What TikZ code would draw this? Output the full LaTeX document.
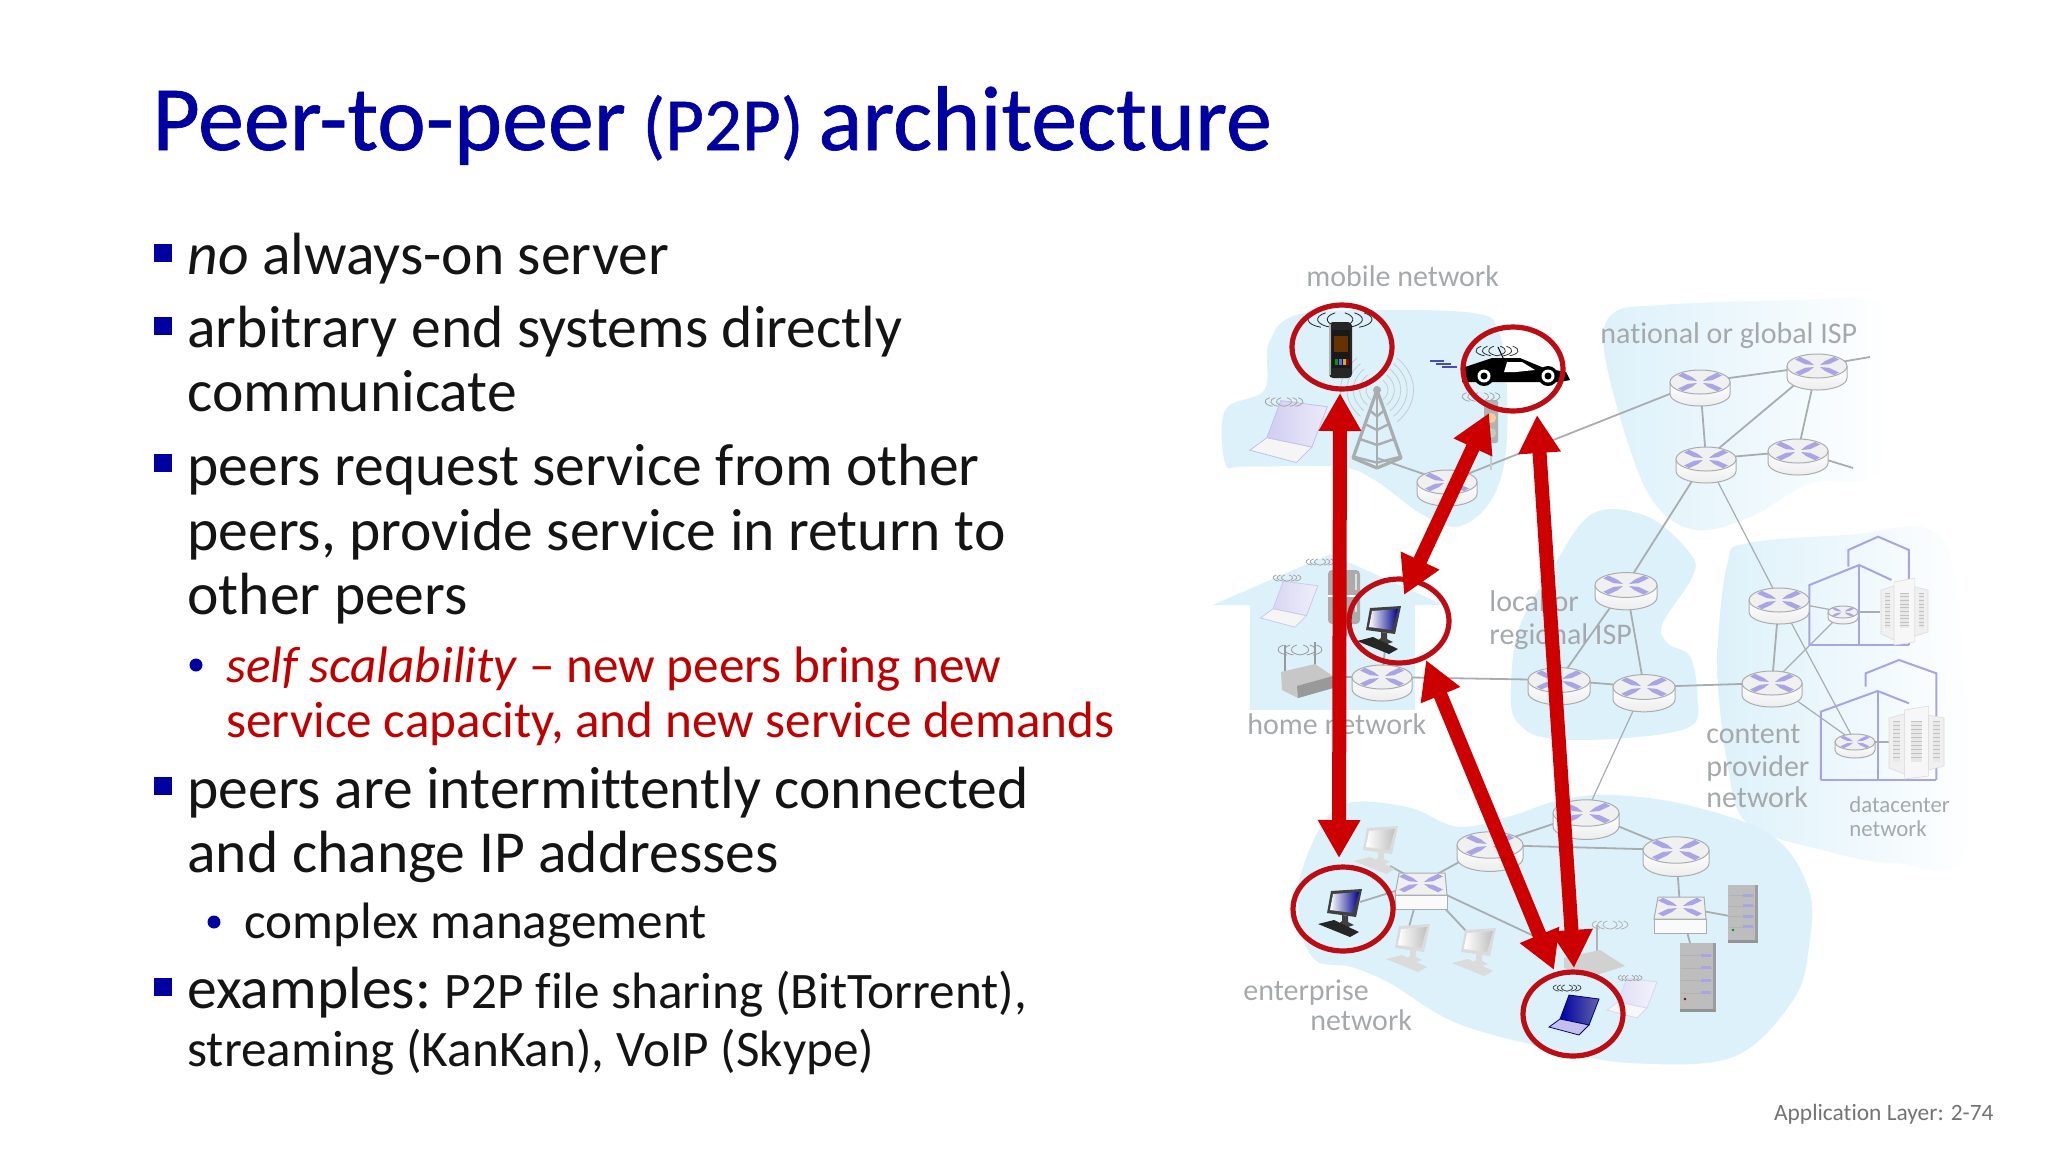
\documentclass[tikz,border=0pt]{standalone}
\usepackage{fontspec}
\setmainfont[Ligatures=NoCommon]{Carlito}
\newfontfamily\titlefont[Ligatures=NoCommon,FakeBold=0.7]{Carlito}
\usetikzlibrary{arrows.meta,shapes.geometric}
\definecolor{cloudc}{HTML}{DDF1FA}
\definecolor{lnk}{HTML}{A9ADB0}
\definecolor{lav}{HTML}{A9A5E5}
\definecolor{lab}{HTML}{A6A9AB}
\definecolor{rarrow}{HTML}{CC0000}
\definecolor{rring}{HTML}{BC0C14}
\definecolor{titleb}{HTML}{0000A0}
\definecolor{redtxt}{HTML}{C00000}
\definecolor{fdgray}{HTML}{C9CBCE}
\tikzset{
 cloud/.style={fill=cloudc,draw=none},
 link/.style={draw=lnk,line width=0.9pt},
 thinlink/.style={draw=lnk,line width=0.6pt},
 body/.style={anchor=base west,inner sep=0pt,font=\fontsize{29.8}{34}\selectfont,text=black!92},
 bodysm/.style={anchor=base west,inner sep=0pt,font=\fontsize{25.6}{30}\selectfont,text=black!92},
 redbody/.style={anchor=base west,inner sep=0pt,font=\fontsize{25.6}{30}\selectfont,text=redtxt},
 graylab/.style={anchor=base west,inner sep=0pt,font=\fontsize{15}{17}\selectfont,text=lab},
 smalllab/.style={anchor=base west,inner sep=0pt,font=\fontsize{11.4}{14}\selectfont,text=lab},
 ring/.style={draw=rring,line width=2.6pt,ellipse,minimum width=100*0.5pt,minimum height=84*0.5pt,inner sep=0pt},
 bigarrow/.style={draw=rarrow,line width=7pt,{Triangle[length=19pt,width=20pt,fill=rarrow]}-{Triangle[length=19pt,width=20pt,fill=rarrow]}},
 sqb/.style={fill=titleb,draw=none,minimum size=9pt,inner sep=0pt},
 rdot/.style={fill=titleb,draw=none,circle,minimum size=6.5pt,inner sep=0pt},
 zoomA/.style={shift={(1200,250)},xscale=0.4591,yscale=0.3333},
 zoomB/.style={shift={(1200,530)},xscale=0.4975,yscale=0.3333},
 zoomC/.style={shift={(1220,780)},xscale=0.3953,yscale=0.3333},
 bldg/.style={draw=lav,line width=1pt},
}
\newcommand\xmark{%
 \foreach \sx in {-1,1}{\foreach \sy in {-1,1}{
  \fill[lav] (\sx*3,\sy*1) -- (\sx*12,\sy*1.8) -- (\sx*22,\sy*6.5) -- (\sx*17,\sy*9.2) -- (\sx*8,\sy*5) -- cycle;
 }}}
\newcommand\rtr[2]{%
 \begin{scope}[shift={(#1)},scale=#2/30]
 \path[draw=lnk,line width=0.5pt,top color=white,bottom color=black!7] (-30,0) -- (-30,12) arc[start angle=180,end angle=360,x radius=30,y radius=-12] -- (30,0) -- cycle;
 \path[draw=lnk,line width=0.5pt,fill=black!6] (0,0) ellipse[x radius=30,y radius=12];
 \xmark
 \end{scope}}
\newcommand\swch[1]{%
 \begin{scope}[shift={(#1)}]
 \path[draw=lnk,line width=0.5pt,fill=black!2] (-26,12) rectangle (26,26);
 \path[draw=lnk,line width=0.5pt,fill=black!6] (-26,12) -- (-22,-10) -- (24,-10) -- (26,12) -- cycle;
 \xmark
 \end{scope}}
\newcommand\wavesicon[4]{%
 \begin{scope}[shift={(#1,#2)},scale=#3]
 \foreach \a in {5,11,17}{
  \draw[#4,line width=0.4pt] (-\a+2,-4.5) .. controls (-\a-6,-2) and (-\a-4,3) .. (-\a+5,4.5);
  \draw[#4,line width=0.4pt] (\a-2,-4.5) .. controls (\a+6,-2) and (\a+4,3) .. (\a-5,4.5);
 }
 \end{scope}}
% x y scale screen-dark bezel keyboard
\newcommand\desktopicon[6]{%
 \begin{scope}[shift={(#1,#2)},scale=#3]
 \fill[#5] (-11,-32) -- (20,-34) -- (14,-6) -- (-15,-10) -- cycle;
 \path[left color=white,right color=#4] (-9,-29) -- (17,-31) -- (11,-10) -- (-12,-13) -- cycle;
 \fill[#5] (0,-8) -- (6,-7) -- (6,-1) -- (12,2) -- (6,4) -- (-4,1) -- (0,-2) -- cycle;
 \fill[#6] (-24,1) -- (-8,-3) -- (17,9) -- (8,14) -- cycle;
 \end{scope}}
% x y scale screen bezel base
\newcommand\laptopicon[6]{%
 \begin{scope}[shift={(#1,#2)},scale=#3]
 \path[draw=#5,line width=0.4pt,left color=#4,right color=white!60!#4] (-4,-19) -- (26,-15) -- (16,11) -- (-13,5) -- cycle;
 \path[draw=#5,line width=0.4pt,fill=#6] (-13,5) -- (16,11) -- (6,21) -- (-24,13) -- cycle;
 \end{scope}}
\newcommand\servericon[5]{%
 \begin{scope}[shift={(#1,#2)}]
 \fill[black!26] (0,0) rectangle (#3,#4);
 \fill[black!38] (#3-3,0) rectangle (#3,#4);
 \foreach \k in {1,2,3,4}{
  \draw[white!70!black,line width=0.4pt] (1,\k*#4/5.5) -- (#3-4,\k*#4/5.5);
  \fill[lav] (#3-15,\k*#4/5.5-2) rectangle (#3-5,\k*#4/5.5+1);
 }
 \fill[black!42] (0,#4-3) rectangle (#3,#4);
 \fill[#5] (5,#4-13) circle[radius=1.4];
 \end{scope}}
\newcommand\dctower[4]{%
 \begin{scope}[shift={(#1,#2)}]
 \path[fill=black!6,draw=black!14,line width=0.3pt] (0,6) -- (#3*0.28,2) -- (#3*0.28,#4-2) -- (0,#4-8) -- cycle;
 \path[fill=black!3,draw=black!14,line width=0.3pt] (#3*0.28,-2) -- (#3*0.72,-6) -- (#3*0.72,#4) -- (#3*0.28,#4+3) -- cycle;
 \path[fill=black!6,draw=black!14,line width=0.3pt] (#3*0.72,3) -- (#3,6) -- (#3,#4-10) -- (#3*0.72,#4-6) -- cycle;
 \foreach \c/\w in {0.08/0.12,0.40/0.2,0.80/0.12}{
  \fill[black!9] (#3*\c,9) rectangle (#3*\c+#3*\w,#4-14);
  \foreach \k in {0,1,...,9}{\draw[black!24,line width=0.25pt] (#3*\c,9+\k*#4/16) -- (#3*\c+#3*\w,9+\k*#4/16);}
 }
 \end{scope}}
\begin{document}
\begin{tikzpicture}[x=0.5pt,y=-0.5pt]
\useasboundingbox (0,0) rectangle (2048,1152);
% ---- clouds
\begin{scope}[zoomA]
\path[cloud] plot[smooth cycle,tension=0.6] coordinates {(55,640) (55,480) (140,420) (150,280) (210,195) (400,180) (600,190) (650,240) (668,400) (665,620) (630,760) (560,830) (480,790) (380,690) (300,650) (100,650)};
\path[left color=cloudc,right color=white,draw=none] plot[smooth cycle,tension=0.6] coordinates {(880,300) (930,570) (990,760) (1080,840) (1200,800) (1330,700) (1480,660) (1500,300) (1480,155) (1300,150) (1000,165) (900,190)};
\end{scope}
\begin{scope}[zoomB]
\path[cloud] (25,225) -- (262,72) -- (490,225) -- (432,225) -- (432,540) -- (100,540) -- (100,225) -- cycle;
\path[cloud] plot[smooth cycle,tension=0.6] coordinates {(625,500) (640,300) (710,110) (790,-50) (900,-40) (985,70) (990,140) (930,280) (940,340) (985,380) (1000,500) (985,590) (850,625) (700,625) (640,580)};
\path[left color=cloudc,right color=white,draw=none] plot[smooth cycle,tension=0.6] coordinates {(1060,100) (1100,40) (1300,15) (1480,10) (1530,300) (1540,960) (1400,1000) (1250,960) (1100,880) (1060,700) (1040,400)};
\end{scope}
\begin{scope}[zoomC]
\path[cloud] plot[smooth cycle,tension=0.6] coordinates {(210,260) (300,80) (470,80) (600,140) (730,110) (860,60) (1000,45) (1200,80) (1400,170) (1490,330) (1490,500) (1450,660) (1300,830) (1050,850) (850,810) (600,730) (430,610) (330,560) (240,540) (200,420)};
\end{scope}
% ---- gray labels
\node[graylab] (lmobile) at (1306,286) {mobile network};
\node[graylab] (lnat) at (1600,343) {national or global ISP};
\node[graylab] (llocal) at (1489,611) {local or};
\node[graylab] (lreg) at (1489,644) {regional ISP};
\node[graylab] (lhome) at (1247,734) {home network};
\node[graylab] (lc1) at (1706,743) {content};
\node[graylab] (lc2) at (1706,776) {provider};
\node[graylab] (lc3) at (1706,807) {network};
\node[smalllab] (ld1) at (1849,812) {datacenter};
\node[smalllab] (ld2) at (1849,836) {network};
\node[graylab] (le1) at (1243,1000) {enterprise};
\node[graylab] (le2) at (1310,1030) {network};
\node[anchor=base east,inner sep=0pt,font=\fontsize{11.7}{14}\selectfont,text=black!55] (foot) at (1994,1120) {Application Layer: 2-74};
% ---- router positions
\coordinate (r1) at (1700,382);
\coordinate (r2) at (1817,366);
\coordinate (r3) at (1706,459);
\coordinate (r4) at (1798,451);
\coordinate (rm) at (1447,482);
\coordinate (lt) at (1626,585);
\coordinate (ct) at (1779,600);
\coordinate (d1) at (1843,612);
\coordinate (rh) at (1382,677);
\coordinate (ll) at (1559,680);
\coordinate (lr) at (1644,687);
\coordinate (cb) at (1772,683);
\coordinate (d2) at (1855,742);
\coordinate (et) at (1586,813);
\coordinate (el) at (1490,845);
\coordinate (er) at (1676,850);
\coordinate (s1) at (1421,883);
\coordinate (s2) at (1680,907);
\coordinate (st1) at (1870,357);
\coordinate (st2) at (1853,468);
\coordinate (twr) at (1377,458);
\coordinate (wh) at (1320,677);
\coordinate (we) at (1536,937);
\coordinate (dE) at (1360,902);
\coordinate (dF1) at (1390,866);
\coordinate (dF2) at (1409,927);
\coordinate (dF3) at (1467,932);
\coordinate (srv1) at (1730,916);
\coordinate (srv2) at (1692,950);
\coordinate (dh) at (1386,640);
\coordinate (sv1) at (1880,612);
\coordinate (sv2) at (1890,742);
% ---- links
\foreach \a/\b in {r1/r2,r1/r3,r3/r2,r2/r4,r3/r4,r2/st1,r4/st2,rm/r1,r3/lt,lt/ll,lt/lr,ll/lr,rh/ll,lr/cb,ct/cb,et/el,et/er,el/er,el/s1,er/s2,s1/dE,s1/dF1,s1/dF2,s1/dF3,s1/we,s2/srv1,s2/srv2,rh/wh,rh/dh,rm/twr}{\draw[link] (\a) -- (\b);}
\foreach \a/\b in {r3/ct,lr/et,ct/d2,cb/d1,cb/d2,ct/d1}{\draw[thinlink] (\a) -- (\b);}
\draw[link,line width=1.4pt] (d1) -- (sv1);
\draw[link,line width=1.4pt] (d2) -- (sv2);
% ---- buildings
\begin{scope}[zoomB]
\draw[bldg] (1303,110) -- (1303,60) -- (1363,20) -- (1425,60) -- (1425,345);
\draw[bldg] (1225,345) -- (1225,165) -- (1325,105) -- (1390,150);
\draw[bldg] (1325,105) -- (1325,345);
\draw[bldg] (1225,345) -- (1425,345);
\draw[bldg] (1338,470) -- (1338,430) -- (1405,390) -- (1480,430) -- (1480,750);
\draw[bldg] (1248,750) -- (1248,545) -- (1362,483) -- (1425,520);
\draw[bldg] (1362,483) -- (1362,750);
\draw[bldg] (1248,750) -- (1480,750);
\end{scope}
\dctower{1881}{584}{47}{58}
\dctower{1889}{712}{55}{64}
% ---- routers
\foreach \n/\s in {r1/30,r2/30,r3/30,r4/30,rm/30,lt/31,ct/30,rh/30,ll/31,lr/31,cb/30,et/33,el/33,er/33}{\rtr{\n}{\s}}
\rtr{d1}{15}
\rtr{d2}{20}
\swch{s1}
\swch{s2}
% ---- servers
\servericon{1728}{885}{30}{58}{green!60!black}
\servericon{1680}{943}{36}{69}{red!60!black}
% ---- faded hosts in mobile network
\laptopicon{1287}{430}{1.55}{lav!55}{lav!70}{black!4}
\wavesicon{1284}{402}{0.95}{black!35}
\begin{scope}[shift={(twr)}]
\draw[lnk,line width=1.6pt,line join=round] (0,-68) -- (-24,0) -- (0,10) -- (24,0) -- cycle;
\foreach \t in {0.3,0.5,0.72,0.98}{\draw[lnk,line width=1.2pt] (-24*\t,-68+68*\t) -- (0,-62+68*\t) -- (24*\t,-68+68*\t);}
\draw[lnk,line width=1pt] (0,-68) -- (0,10);
\fill[lnk] (0,-68) circle[radius=4];
\foreach \r in {12,19,26,33,40}{
 \draw[fdgray,line width=0.4pt] (\r*0.5,-68-\r*0.8) .. controls (\r*1.05,-68-\r*0.35) and (\r*1.05,-68+\r*0.35) .. (\r*0.5,-68+\r*0.8);
 \draw[fdgray,line width=0.4pt] (-\r*0.5,-68-\r*0.8) .. controls (-\r*1.05,-68-\r*0.35) and (-\r*1.05,-68+\r*0.35) .. (-\r*0.5,-68+\r*0.8);
}
\end{scope}
% stoplight
\draw[fdgray,line width=0.8pt] (1491,440) -- (1491,470);
\path[fill=black!30,rounded corners=1pt] (1484,400) rectangle (1498,443);
\fill[orange!40] (1491,418) circle[radius=5];
\fill[green!25!black!25] (1491,433) circle[radius=5];
\wavesicon{1481}{397}{0.95}{black!35}
% ---- home network hosts
\laptopicon{1288}{603}{1.15}{lav!45}{lav!60}{black!4}
\wavesicon{1287}{578}{0.7}{black!35}
\wavesicon{1320}{562}{0.7}{black!35}
\fill[black!33,rounded corners=2pt] (1328,570) rectangle (1360,624);
\draw[white,line width=0.8pt] (1328,596) -- (1360,596);
\draw[black!12,line width=1pt] (1356,574) -- (1356,590) (1356,600) -- (1356,612);
% wireless router home
\draw[black!40,line width=0.8pt] (1285,645) -- (1285,672) (1315,642) -- (1315,668);
\wavesicon{1300}{650}{1.1}{black!40}
\path[fill=black!22] (1281,672) -- (1315,664) -- (1333,676) -- (1333,688) -- (1298,698) -- (1282,690) -- cycle;
\fill[black!40] (1297,686) -- (1333,676) -- (1333,688) -- (1298,698) -- cycle;
% ---- enterprise hosts
\desktopicon{1378}{860}{1}{black!25}{black!14}{black!14}
\desktopicon{1410}{958}{1}{black!25}{black!14}{black!14}
\desktopicon{1476}{962}{1}{black!25}{black!14}{black!14}
% wireless router enterprise
\draw[black!30,line width=0.8pt] (1597,925) -- (1597,960);
\wavesicon{1610}{925}{0.9}{black!30}
\path[fill=black!18] (1564,958) -- (1600,950) -- (1625,966) -- (1590,977) -- (1564,968) -- cycle;
\laptopicon{1631}{997}{1.0}{lav!35}{lav!45}{black!3}
\wavesicon{1630}{978}{0.6}{black!35}
% ---- colored hosts
\wavesicon{1340}{320}{1.6}{black!85}
\fill[black!85,rounded corners=2pt] (1329,322) rectangle (1352,378);
\path[fill=black!90] (1332,330) rectangle (1350,368);
\fill[orange!40!black] (1334,336) rectangle (1348,352);
\foreach \c/\xx in {green!60!black/1335,blue!60/1339,yellow!70!black/1343,red!60!black/1346}{\fill[\c] (\xx,359) rectangle (\xx+3,365);}
\fill[black!30] (1331,324) -- (1331,375) -- (1329,375) -- (1329,324) -- cycle;
% car
\draw[blue!55!black!70,line width=0.8pt] (1430,361) -- (1444,361) (1436,364) -- (1451,364) (1442,367) -- (1457,367);
\wavesicon{1497}{351}{1.05}{black!80}
\draw[black,line width=0.5pt] (1498,347) -- (1504,360);
\path[fill=black] (1462,378) -- (1462,368) -- (1492,358) -- (1520,358) -- (1544,368) -- (1566,372) -- (1570,380) -- (1560,382) -- (1462,382) -- cycle;
\path[fill=white] (1507,362) -- (1522,362) -- (1535,370) -- (1516,372) -- (1504,372) -- cycle;
\foreach \xx in {1484,1548}{\fill[black] (\xx,376) circle[radius=10]; \fill[white] (\xx,376) circle[radius=6.5]; \fill[black] (\xx,376) circle[radius=3.5];}
\desktopicon{1381}{640}{1}{blue!55!black}{black!75}{black!85}
\desktopicon{1342}{923}{1}{blue!55!black}{black!75}{black!85}
\laptopicon{1573}{1014}{1}{blue!65!black}{blue!50!black}{lav!70}
\wavesicon{1567}{988}{0.7}{black!70}
% ---- rings
\node[ring] (pPhone) at (1342,347) {};
\node[ring] (pCar) at (1513,369) {};
\node[ring] (pHome) at (1399,621) {};
\node[ring] (pEnt) at (1343,909) {};
\node[ring] (pLap) at (1573,1014) {};
% ---- arrows
\coordinate (a1t) at (1340,393);
\coordinate (a1b) at (1339,858);
\coordinate (a2t) at (1489,413);
\coordinate (a2b) at (1404,595);
\coordinate (a3t) at (1537,415);
\coordinate (a3b) at (1574,968);
\coordinate (a4t) at (1426,660);
\coordinate (a4b) at (1554,970);
\draw[bigarrow] (a1t) -- (a1b);
\draw[bigarrow] (a2t) -- (a2b);
\draw[bigarrow] (a3t) -- (a3b);
\draw[bigarrow] (a4t) -- (a4b);
% ---- title
\node[anchor=base west,inner sep=0pt,text=titleb] (title) at (152,150) {\titlefont\fontsize{46}{52}\selectfont Peer-to-peer\hspace{-2pt} {\fontsize{37.5}{44}\selectfont (P2P)}\hspace{-3pt} architecture};
% ---- text
\foreach \y/\n in {253/b1,326/b2,463/b3,786/b4,987/b5}{\node[sqb] (\n) at (163,\y) {};}
\node[body] (t1) at (187,274) {\textit{no} always-on server};
\node[body] (t2) at (187,347) {arbitrary end systems directly};
\node[body] (t3) at (187,411) {communicate};
\node[body] (t4) at (187,485) {peers request service from other};
\node[body] (t5) at (187,550) {peers, provide service in return to};
\node[body] (t6) at (187,614) {other peers};
\node[rdot] (bu1) at (196,665) {};
\node[redbody] (t7) at (226,682) {\textit{self scalability} – new peers bring new};
\node[redbody] (t8) at (226,737) {service capacity, and new service demands};
\node[body] (t9) at (187,808) {peers are intermittently connected};
\node[body] (t10) at (187,872) {and change IP addresses};
\node[rdot] (bu2) at (214,922) {};
\node[bodysm] (t11) at (244,938) {complex management};
\node[body] (t12) at (187,1008) {examples:\hspace{-2pt} {\fontsize{25.6}{30}\selectfont P2P file sharing (BitTorrent),}};
\node[bodysm] (t13) at (187,1066) {streaming (KanKan), VoIP (Skype)};
\end{tikzpicture}
\end{document}
